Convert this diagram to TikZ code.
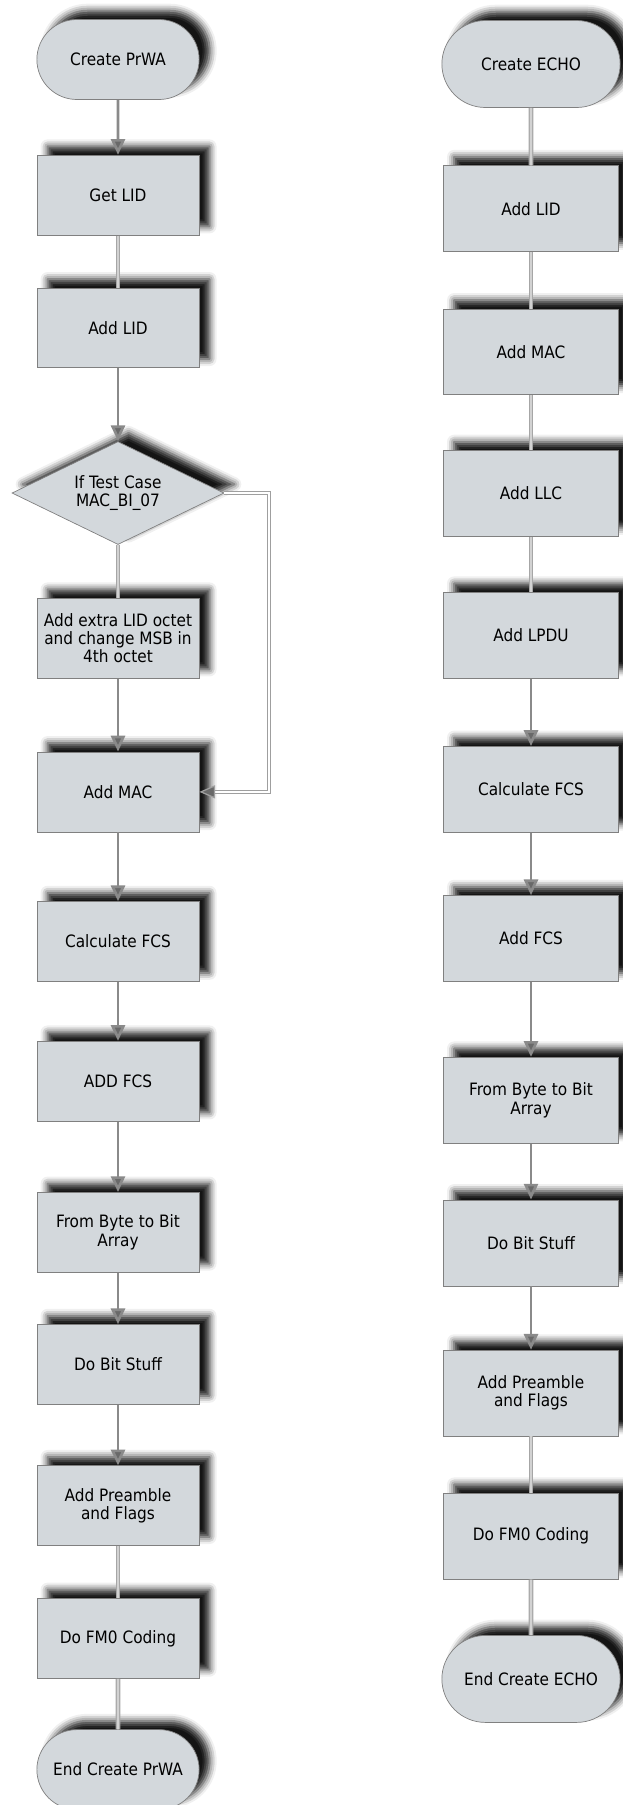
\documentclass[tikz,border=0pt]{standalone}
\usepackage{fontspec}
\setmainfont{DejaVu Sans Condensed}
\usepackage{xcolor}
\usetikzlibrary{shapes.geometric, shapes.misc, arrows.meta, positioning, shadows.blur}
\definecolor{boxfill}{RGB}{211, 216, 220}
\definecolor{boxline}{RGB}{128, 128, 128}
\definecolor{wire}{RGB}{138, 138, 138}
\definecolor{tipgray}{RGB}{105, 105, 105}

\begin{document}
\begin{tikzpicture}[
    x=0.02cm, y=-0.02cm,
    every node/.style={font=\fontsize{9.7}{10.4}\selectfont, text=black},
    boxshadow/.style={blur shadow={shadow xshift=6pt, shadow yshift=5pt, shadow blur radius=4pt, shadow opacity=92}},
    block/.style={rectangle, draw=boxline, fill=boxfill, boxshadow, minimum width=3.24cm, minimum height=1.6cm, align=center, inner sep=2pt},
    rblock/.style={block, minimum width=3.5cm, minimum height=1.72cm},
    term/.style={rounded rectangle, draw=boxline, fill=boxfill, boxshadow, minimum width=3.48cm, minimum height=1.6cm, align=center},
    rterm/.style={term, minimum width=3.8cm, minimum height=1.74cm},
    decision/.style={diamond, aspect=2.06, draw=boxline, fill=boxfill, boxshadow, minimum width=4.24cm, minimum height=2.06cm, inner sep=0pt, align=center},
    arr/.style={-{Triangle[length=9pt, width=8pt, fill=tipgray]}, draw=wire, line width=1.5pt},
    link/.style={draw=gray!70, double=gray!35, line width=0.7pt, double distance=1.3pt},
    bypass/.style={draw=gray!75, double=white, line width=0.7pt, double distance=1pt, -{Triangle[length=9pt, width=7.5pt, fill=tipgray]}},
]
\useasboundingbox (0,0) rectangle (622,1805);

% ── PrWA column ──
\node[term] (startL) at (118,59.5) {Create PrWA};
\node[block, below=1.1cm of startL] (getlid) {Get  LID};
\node[block, below=1.04cm of getlid] (addlidL) {Add  LID};
\node[decision, below=1.46cm of addlidL] (test) {If Test Case\\MAC\_BI\_07};
\node[block, below=1.06cm of test] (extra) {Add extra LID octet\\and change MSB in\\4th octet};
\node[block, below=1.46cm of extra] (addmacL) {Add  MAC};
\node[block, below=1.38cm of addmacL] (calcL) {Calculate FCS};
\node[block, below=1.18cm of calcL] (addfcsL) {ADD FCS};
\node[block, below=1.41cm of addfcsL] (byteL) {From  Byte to  Bit\\Array};
\node[block, below=1.03cm of byteL] (stuffL) {Do Bit Stuff};
\node[block, below=1.21cm of stuffL] (preL) {Add  Preamble\\and  Flags};
\node[block, below=1.04cm of preL] (fm0L) {Do FM0 Coding};
\node[term, below=1.01cm of fm0L] (endL) {End  Create PrWA};

% ── ECHO column ──
\node[rterm] (startR) at (531,64) {Create ECHO};
\node[rblock, below=1.15cm of startR] (addlidR) {Add LID};
\node[rblock, below=1.13cm of addlidR] (addmacR) {Add MAC};
\node[rblock, below=1.1cm of addmacR] (llc) {Add LLC};
\node[rblock, below=1.1cm of llc] (lpdu) {Add LPDU};
\node[rblock, below=1.35cm of lpdu] (calcR) {Calculate FCS};
\node[rblock, below=1.25cm of calcR] (addfcsR) {Add FCS};
\node[rblock, below=1.5cm of addfcsR] (byteR) {From Byte to Bit\\Array};
\node[rblock, below=1.12cm of byteR] (stuffR) {Do Bit Stuff};
\node[rblock, below=1.27cm of stuffR] (preR) {Add Preamble\\and Flags};
\node[rblock, below=1.13cm of preR] (fm0R) {Do FM0 Coding};
\node[rterm, below=1.11cm of fm0R] (endR) {End Create ECHO};

% ── Connectors, PrWA ──
\draw[arr] (startL) -- (getlid);
\draw[link] (getlid) -- (addlidL);
\draw[arr] (addlidL) -- (test);
\draw[link] (test) -- (extra);
\draw[arr] (extra) -- (addmacL);
\draw[bypass] (test.east) -- ++(45,0) |- (addmacL.east);
\draw[arr] (addmacL) -- (calcL);
\draw[arr] (calcL) -- (addfcsL);
\draw[arr] (addfcsL) -- (byteL);
\draw[arr] (byteL) -- (stuffL);
\draw[arr] (stuffL) -- (preL);
\draw[link] (preL) -- (fm0L);
\draw[link] (fm0L) -- (endL);

% ── Connectors, ECHO ──
\draw[link] (startR) -- (addlidR);
\draw[link] (addlidR) -- (addmacR);
\draw[link] (addmacR) -- (llc);
\draw[link] (llc) -- (lpdu);
\draw[arr] (lpdu) -- (calcR);
\draw[arr] (calcR) -- (addfcsR);
\draw[arr] (addfcsR) -- (byteR);
\draw[arr] (byteR) -- (stuffR);
\draw[arr] (stuffR) -- (preR);
\draw[link] (preR) -- (fm0R);
\draw[link] (fm0R) -- (endR);

\end{tikzpicture}
\end{document}
